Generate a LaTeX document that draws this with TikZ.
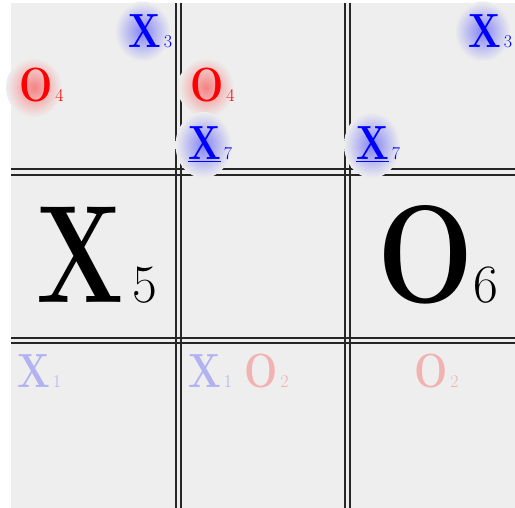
\documentclass[tikz,border=0pt]{standalone}
\usepackage{tikz}
\usepackage{graphicx}
\usetikzlibrary{positioning}

\definecolor{boardgray}{HTML}{EEEEEE}
\newcommand{\pX}{\scalebox{0.8}[1]{\bfseries X}}
\newcommand{\pO}{\scalebox{0.82}[1]{\bfseries O}}
\newcommand{\bigX}{\scalebox{0.74}[1]{\bfseries X}}
\newcommand{\idx}[1]{{\fontsize{18}{18}\selectfont\,#1}}
\newcommand{\bigidx}[1]{{\fontsize{54}{54}\selectfont#1}}
% soft halo behind a piece
\newcommand{\halo}[4]{%
  \shade[inner color=#1!45!boardgray, outer color=boardgray] (#2) ellipse[x radius=#3, y radius=#4];
}

\begin{document}
\begin{tikzpicture}[x=1pt, y=-1pt,
    piece/.style={anchor=base west, inner sep=0pt, font=\fontsize{48}{48}\selectfont},
    bigpiece/.style={anchor=base west, inner sep=0pt, font=\fontsize{139}{139}\selectfont},
    faint/.style={opacity=0.25},
    gridline/.style={line width=1.3pt, black!85}
]
\useasboundingbox (0,0) rectangle (515,508);
\fill[boardgray] (11,3) rectangle (515,508);

% double grid lines
\foreach \gx in {176,181,345,350}
  \draw[gridline] (\gx,3) -- (\gx,508);
\foreach \gy in {169,175,338,343}
  \draw[gridline] (11,\gy) -- (515,\gy);

% top row
\halo{blue}{142.5,31.5}{28}{30}
\halo{red}{34,87.5}{28}{30}
\halo{red}{206,87.5}{28}{30}
\halo{blue}{203.5,145}{28}{33}
\halo{blue}{482.5,31.5}{28}{30}
\halo{blue}{372,145}{28}{33}
\node[piece, text=blue] (xthreea) at (128,48) {\pX\idx{3}};
\node[piece, text=red] (ofoura) at (19,102) {\pO\idx{4}};
\node[piece, text=red] (ofourb) at (190,102) {\pO\idx{4}};
\node[piece, text=blue] (xsevenb) at (188,160) {\underline{\pX}\idx{7}};
\node[piece, text=blue] (xthreec) at (468,48) {\pX\idx{3}};
\node[piece, text=blue] (xsevenc) at (356,160) {\underline{\pX}\idx{7}};

% middle row
\node[bigpiece] (xfive) at (36,303) {\bigX\bigidx{\,5}};
\node[bigpiece] (osix) at (377,303) {\pO\bigidx{6}};

% bottom row
\node[piece, faint, text=blue] (xonea) at (17,388) {\pX\idx{1}};
\node[piece, faint, text=blue] (xoneb) at (188,388) {\pX\idx{1}};
\node[piece, faint, text=red] (otwob) at (244,388) {\pO\idx{2}};
\node[piece, faint, text=red] (otwoc) at (414,388) {\pO\idx{2}};

\end{tikzpicture}
\end{document}
